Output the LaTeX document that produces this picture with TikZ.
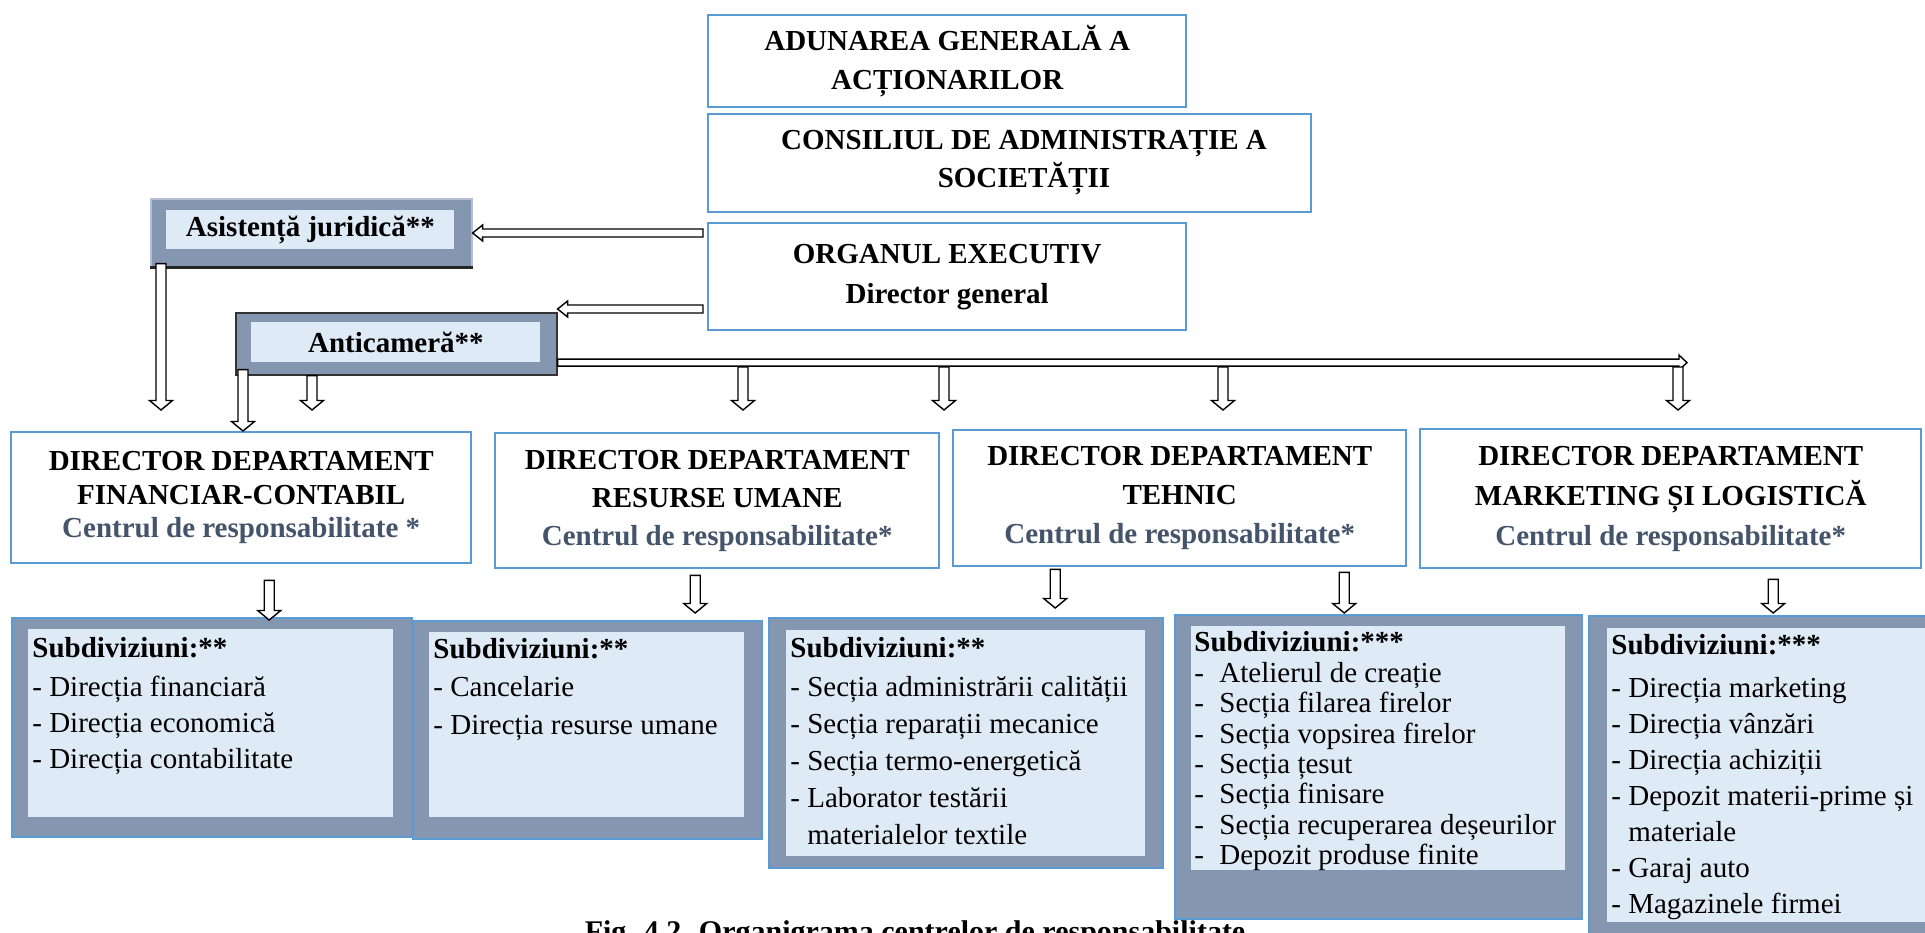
\documentclass[tikz,border=0pt]{standalone}
\usepackage{fontspec}
\setmainfont{Liberation Serif}
\usetikzlibrary{calc}

\definecolor{bordblue}{HTML}{5B9BD5}
\definecolor{slate}{HTML}{8496B0}
\definecolor{paleblue}{HTML}{DEEAF6}
\definecolor{txtslate}{HTML}{44546A}
\definecolor{lightedge}{HTML}{B4C0D2}

% hollow block arrows (axis aligned); #1 = tail point, #2 = tip point
\newcommand\dnarrow[2]{%
  \draw[blockarrow] let \p1=#1, \p2=#2 in
    (\x1-2.5pt,\y1) -- (\x1+2.5pt,\y1) -- (\x1+2.5pt,\y2+4.75pt) -- (\x1+5.75pt,\y2+4.75pt)
    -- (\x1,\y2) -- (\x1-5.75pt,\y2+4.75pt) -- (\x1-2.5pt,\y2+4.75pt) -- cycle;}
\newcommand\lfarrow[2]{%
  \draw[blockarrow] let \p1=#1, \p2=#2 in
    (\x1,\y1+2pt) -- (\x2+5pt,\y1+2pt) -- (\x2+5pt,\y1+4pt) -- (\x2,\y1)
    -- (\x2+5pt,\y1-4pt) -- (\x2+5pt,\y1-2pt) -- (\x1,\y1-2pt) -- cycle;}
\newcommand\rtarrow[2]{%
  \draw[blockarrow] let \p1=#1, \p2=#2 in
    (\x1,\y1+1.75pt) -- (\x2-4pt,\y1+1.75pt) -- (\x2-4pt,\y1+3.75pt) -- (\x2,\y1)
    -- (\x2-4pt,\y1-3.75pt) -- (\x2-4pt,\y1-1.75pt) -- (\x1,\y1-1.75pt) -- cycle;}
% fixed first-line height for the lists
\newcommand\firstline{\rule{0pt}{11pt}}

\begin{document}
\begin{tikzpicture}[x=0.5pt,y=-0.5pt,
  blockarrow/.style={draw=black, fill=white, line width=0.7pt, line join=miter},
  topbox/.style={draw=bordblue, line width=1.2pt, fill=white, inner sep=0pt,
    anchor=north west, align=center, font=\bfseries\fontsize{14.5}{19.5}\selectfont},
  dirbox/.style={draw=bordblue, line width=1.2pt, fill=white, inner sep=0pt,
    anchor=north west, align=center},
  subouter/.style={draw=bordblue, line width=1.1pt, fill=slate, inner sep=0pt, anchor=north west},
  subinner/.style={fill=paleblue, inner sep=0pt, anchor=north west},
  listtext/.style={anchor=north west, inner sep=0pt, align=left},
  staffouter/.style={fill=slate, inner sep=0pt, anchor=north west},
  staffinner/.style={fill=paleblue, inner sep=0pt, anchor=north west,
    font=\bfseries\fontsize{14.5}{17}\selectfont},
]
\useasboundingbox (0,0) rectangle (1925,932);
\clip (0,0) rectangle (1925,932);

% ---- governing bodies
\node[topbox, minimum width=239pt, minimum height=46pt] (adun) at (707,14)
  {ADUNAREA GENERALĂ A\\ACȚIONARILOR};
\node[topbox, minimum width=301.5pt, minimum height=49pt] (cons) at (707,113) {};
\node[inner sep=0pt, align=center, font=\bfseries\fontsize{14.5}{19}\selectfont] (const)
  at (1024,163) {CONSILIUL DE ADMINISTRAȚIE A\\SOCIETĂȚII};
\node[topbox, minimum width=239pt, minimum height=53.5pt,
  font=\bfseries\fontsize{14.5}{20}\selectfont] (org) at (707,222)
  {ORGANUL EXECUTIV\\Director general};

% ---- staff units
\node[staffouter, draw=lightedge, line width=0.8pt, minimum width=160.5pt, minimum height=34pt]
  (asist) at (150,198) {};
\draw[black!85, line width=1.3pt] (asist.south west) -- (asist.south east);
\node[staffinner, minimum width=144pt, minimum height=19.5pt] (asistin) at (166,210)
  {Asistență juridică**};

\node[staffouter, draw=black!80, line width=0.8pt, minimum width=160.5pt, minimum height=31pt]
  (antic) at (235,312) {};
\node[staffinner, minimum width=144.5pt, minimum height=20pt] (anticin) at (251,322)
  {Anticameră**};

% ---- department directors
\node[dirbox, font=\bfseries\fontsize{14.5}{16.75}\selectfont,
  minimum width=230pt, minimum height=65.5pt] (dfin) at (10,431)
  {DIRECTOR DEPARTAMENT\\FINANCIAR-CONTABIL\\\textcolor{txtslate}{Centrul de responsabilitate *}};
\node[dirbox, font=\bfseries\fontsize{14.5}{19}\selectfont,
  minimum width=222pt, minimum height=67.5pt] (dru) at (494,432)
  {DIRECTOR DEPARTAMENT\\RESURSE UMANE\\\textcolor{txtslate}{Centrul de responsabilitate*}};
\node[dirbox, font=\bfseries\fontsize{14.5}{19.5}\selectfont,
  minimum width=226.5pt, minimum height=68pt] (dteh) at (952,429)
  {DIRECTOR DEPARTAMENT\\TEHNIC\\\textcolor{txtslate}{Centrul de responsabilitate*}};
\node[dirbox, font=\bfseries\fontsize{14.5}{20}\selectfont,
  minimum width=250.5pt, minimum height=69.5pt] (dmkt) at (1419,428)
  {DIRECTOR DEPARTAMENT\\MARKETING ȘI LOGISTICĂ\\\textcolor{txtslate}{Centrul de responsabilitate*}};

% ---- subdivisions
\node[subouter, minimum width=200pt, minimum height=109.5pt] (sfin) at (11,617) {};
\node[subinner, minimum width=182.5pt, minimum height=94pt] (sfinin) at (28,629) {};
\node[listtext, font=\fontsize{14.5}{18}\selectfont] (sfint) at (32,635.5)
  {\firstline\textbf{Subdiviziuni:**}\\[1.5pt]- Direcția financiară\\- Direcția economică\\- Direcția contabilitate};

\node[subouter, minimum width=174.5pt, minimum height=109pt] (sru) at (412,620) {};
\node[subinner, minimum width=157.5pt, minimum height=92.5pt] (sruin) at (429,632) {};
\node[listtext, font=\fontsize{14.5}{19}\selectfont] (srut) at (433,636.5)
  {\firstline\textbf{Subdiviziuni:**}\\- Cancelarie\\- Direcția resurse umane};

\node[subouter, minimum width=197pt, minimum height=125pt] (steh1) at (768,617) {};
\node[subinner, minimum width=179.5pt, minimum height=113pt] (steh1in) at (786,630) {};
\node[listtext, font=\fontsize{14.5}{18.5}\selectfont] (steh1t) at (790,635.5)
  {\firstline\textbf{Subdiviziuni:**}\\[1pt]- Secția administrării calității\\- Secția reparații mecanice\\
   - Secția termo-energetică\\- Laborator testării\\\hphantom{- }materialelor textile};

\node[subouter, minimum width=203.5pt, minimum height=152pt] (steh2) at (1174,614) {};
\node[subinner, minimum width=187pt, minimum height=122pt] (steh2in) at (1191,626) {};
\node[listtext, font=\fontsize{14.5}{15.2}\selectfont] (steh2t) at (1194,629.5)
  {\firstline\textbf{Subdiviziuni:***}\\
   \makebox[12.5pt][l]{-}Atelierul de creație\\
   \makebox[12.5pt][l]{-}Secția filarea firelor\\
   \makebox[12.5pt][l]{-}Secția vopsirea firelor\\
   \makebox[12.5pt][l]{-}Secția țesut\\
   \makebox[12.5pt][l]{-}Secția finisare\\
   \makebox[12.5pt][l]{-}Secția recuperarea deșeurilor\\
   \makebox[12.5pt][l]{-}Depozit produse finite};

\node[subouter, minimum width=180pt, minimum height=165pt] (smkt) at (1588,615) {};
\node[subinner, minimum width=165pt, minimum height=147pt] (smktin) at (1607,628) {};
\node[listtext, font=\fontsize{14.5}{18}\selectfont] (smktt) at (1611,632.5)
  {\firstline\textbf{Subdiviziuni:***}\\[3.5pt]- Direcția marketing\\- Direcția vânzări\\- Direcția achiziții\\
   - Depozit materii-prime și\\\hphantom{- }materiale\\- Garaj auto\\- Magazinele firmei};

% ---- caption
\node[anchor=base, inner sep=0pt, font=\bfseries\fontsize{15}{18}\selectfont] (cap) at (915,941)
  {Fig. 4.2. Organigrama centrelor de responsabilitate};

% ---- connectors
\coordinate (lineend) at (1687,361);
\coordinate (d1) at (743,367);
\coordinate (d2) at (944,367);
\coordinate (d3) at (1223,367);
\coordinate (d4) at (1678,367);

\lfarrow{($(org.north west)+(-4,11)$)}{(asist.east)}
\lfarrow{($(org.north west)+(-4,87)$)}{(antic.east)}
\rtarrow{($(antic.south east)+(0,-13)$)}{(lineend)}

\dnarrow{($(asist.south west)+(11,-4)$)}{($(dfin.north)+(0,-21)$)}
\dnarrow{($(antic.south west)+(8,-6)$)}{(dfin.north)}
\dnarrow{($(antic.south west)+(77,0)$)}{($(dfin.north)+(0,-21)$)}

\dnarrow{(d1)}{($(dru.north)+(0,-22)$)}
\dnarrow{(d2)}{($(dru.north)+(0,-22)$)}
\dnarrow{(d3)}{($(dteh.north)+(0,-19)$)}
\dnarrow{(d4)}{($(dmkt.north)+(0,-18)$)}

\dnarrow{($(dfin.south)+(28,16)$)}{($(sfin.north)+(0,3)$)}
\dnarrow{($(dru.south)+(-22,6)$)}{($(sru.north)+(0,-7)$)}
\dnarrow{($(dteh.south)+(-124.5,2)$)}{($(steh1.north)+(0,-9)$)}
\dnarrow{($(dteh.south)+(164.5,5)$)}{($(steh2.north)+(0,-1)$)}
\dnarrow{($(dmkt.south)+(102.5,10)$)}{($(smkt.north)+(0,-2)$)}
\end{tikzpicture}
\end{document}
